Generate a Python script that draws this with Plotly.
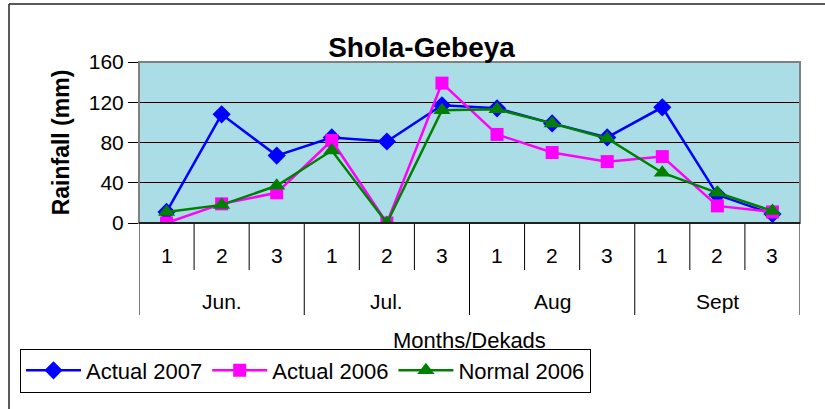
import plotly.graph_objects as go

dekads = ["1", "2", "3", "1", "2", "3", "1", "2", "3", "1", "2", "3"]
months = ["Jun.", "Jul.", "Aug", "Sept"]
actual_2007 = [11, 108, 67, 85, 81, 117, 114, 99, 85, 115, 28, 9]
actual_2006 = [0, 19, 30, 82, 0, 139, 88, 70, 61, 66, 17, 11]
normal_2006 = [11, 18, 37, 72, 0, 112, 113, 99, 84, 50, 30, 12]

W, H = 825, 409
L, R, T, B = 139, 800, 62, 223
pw, ph = R - L, B - T


def px(x):
    return (x - L) / pw


def py(y):
    return (B - y) / ph


FONT = "Liberation Sans, Arial, sans-serif"
xs = list(range(len(dekads)))

fig = go.Figure()
fig.add_trace(go.Scatter(x=xs, y=actual_2007, name="Actual 2007", mode="lines+markers",
                         line=dict(color="#0000ff", width=2.5),
                         marker=dict(symbol="diamond", size=14, color="#0000ff")))
fig.add_trace(go.Scatter(x=xs, y=actual_2006, name="Actual 2006", mode="lines+markers",
                         line=dict(color="#ff00ff", width=2.5),
                         marker=dict(symbol="square", size=13, color="#ff00ff")))
fig.add_trace(go.Scatter(x=xs, y=normal_2006, name="Normal 2006", mode="lines+markers",
                         line=dict(color="#008000", width=2.5),
                         marker=dict(symbol="triangle-up", size=15, color="#008000")))

shapes = []
# outer chart frame (top and left edges visible)
shapes.append(dict(type="line", xref="paper", yref="paper", x0=px(9), x1=px(830), y0=py(4), y1=py(4),
                   line=dict(color="#222", width=1.5)))
shapes.append(dict(type="line", xref="paper", yref="paper", x0=px(9), x1=px(9), y0=py(4), y1=py(415),
                   line=dict(color="#222", width=1.5)))
# category dividers
n = len(dekads)
for i in range(n + 1):
    bottom = 315 if i % 3 == 0 else 270
    shapes.append(dict(type="line", xref="x", yref="paper", x0=i - 0.5, x1=i - 0.5, y0=0, y1=py(bottom),
                       line=dict(color="#000", width=1)))
# plot area border
shapes.append(dict(type="rect", xref="paper", yref="paper", x0=0, x1=1, y0=0, y1=1,
                   line=dict(color="#808080", width=2)))
# zero axis line
shapes.append(dict(type="line", xref="paper", yref="paper", x0=0, x1=1, y0=0, y1=0,
                   line=dict(color="#000", width=1.5)))

annotations = []
for i, d in enumerate(dekads):
    annotations.append(dict(x=i, y=py(255.5), xref="x", yref="paper", text=d, showarrow=False,
                            font=dict(family=FONT, size=21, color="#000"), xanchor="center", yanchor="middle"))
for m, name in enumerate(months):
    annotations.append(dict(x=m * 3 + 1, y=py(301), xref="x", yref="paper", text=name, showarrow=False,
                            font=dict(family=FONT, size=21, color="#000"), xanchor="center", yanchor="middle"))
annotations.append(dict(x=px(469), y=py(340), xref="paper", yref="paper", text="Months/Dekads",
                        showarrow=False, font=dict(family=FONT, size=22, color="#000"),
                        xanchor="center", yanchor="middle"))

fig.update_layout(
    width=W, height=H,
    margin=dict(l=L, r=W - R, t=T, b=H - B, pad=0),
    paper_bgcolor="#ffffff",
    plot_bgcolor="#abdde7",
    font=dict(family=FONT, size=21, color="#000"),
    title=dict(text="<b>Shola-Gebeya</b>", xref="paper", x=px(421.5), xanchor="center",
               yref="container", y=1 - 47 / H, yanchor="middle",
               font=dict(family=FONT, size=28, color="#000")),
    xaxis=dict(range=[-0.5, n - 0.5], showticklabels=False,
               showgrid=False, zeroline=False, showline=False, ticks="", fixedrange=True),
    yaxis=dict(range=[0, 160], tickvals=[0, 40, 80, 120, 160], showgrid=True, gridcolor="#000", gridwidth=1,
               zeroline=False, showline=False, ticks="outside", ticklen=10, tickcolor="#000",
               tickfont=dict(family=FONT, size=21),
               title=dict(text="<b>Rainfall (mm)</b>", font=dict(family=FONT, size=23), standoff=12)),
    legend=dict(orientation="h", x=px(20), y=py(370.5), xanchor="left", yanchor="middle",
                bordercolor="#000", borderwidth=1, bgcolor="#fff",
                font=dict(family=FONT, size=22), itemwidth=55, tracegroupgap=0),
    shapes=shapes,
    annotations=annotations,
    showlegend=True,
)

fig.write_html("out.html", config={"displayModeBar": False},
               post_script="document.body.style.margin='0px';document.body.style.overflow='hidden';")
